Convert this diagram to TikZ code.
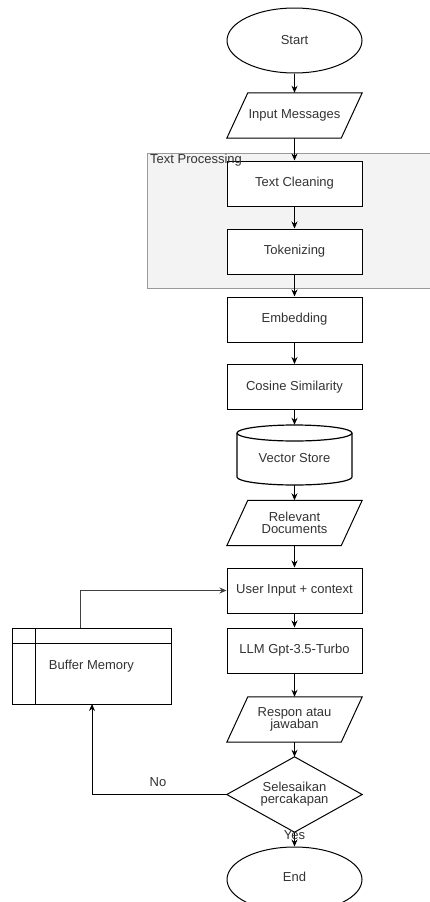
\documentclass[tikz,border=0pt]{standalone}
\usepackage{fontspec}
\setmainfont{Liberation Sans}
\usetikzlibrary{shapes.geometric,arrows.meta,calc}
\definecolor{txt}{HTML}{333333}
\definecolor{grpfill}{HTML}{F3F3F3}
\definecolor{grpline}{HTML}{9A9A9A}
\begin{document}
\begin{tikzpicture}[x=1pt,y=1pt,
  lbl/.style={font=\fontsize{13}{15}\selectfont, text=txt, align=center},
  procbox/.style={lbl, draw=black, line width=1pt, fill=white, rectangle, minimum width=135pt, minimum height=45pt, inner sep=0pt},
  blank/.style={lbl, rectangle, minimum width=135pt, minimum height=45pt, inner sep=0pt},
  term/.style={lbl, draw=black, line width=1pt, fill=white, ellipse, minimum width=135pt, minimum height=65pt, inner sep=0pt},
  para/.style={draw=black, line width=1pt, fill=white},
  conn/.style={draw=black, line width=1pt, -{Stealth[length=7pt,width=6pt]}},
]
\useasboundingbox (0,0) rectangle (430,-902);
\fill[white] (0,0) rectangle (430,-902);

% group
\draw[grpline, fill=grpfill, line width=0.8pt] (432,-153) -- (147,-153) -- (147,-288) -- (432,-288);

% nodes
\node[term] (start) at (294.5,-40.5) {Start};

\node[blank] (inmsg) at (294.5,-115.5) {};
\draw[para] (inmsg.south west) -- ($(inmsg.north west)+(21,0)$) -- (inmsg.north east) -- ($(inmsg.south east)+(-21,0)$) -- cycle;
\node[lbl] at (inmsg.center) {Input Messages};

\node[procbox] (clean) at (294.5,-183.5) {Text Cleaning};
\node[procbox] (tok) at (294.5,-251.5) {Tokenizing};
\node[lbl, anchor=north west, inner sep=0pt] (grplabel) at (150,-154) {Text Processing};

\node[procbox] (emb) at (294.5,-319.5) {Embedding};
\node[procbox] (cos) at (294.5,-387) {Cosine Similarity};

% vector store cylinder
\node[lbl, rectangle, minimum width=115pt, minimum height=60pt, inner sep=0pt] (vs) at (294.5,-455) {};
\draw[black, line width=1.2pt, fill=white] (237,-433) -- (237,-477) arc (180:360:57.5 and 8) -- (352,-433);
\draw[black, line width=1.2pt, fill=white] (294.5,-433) ellipse (57.5 and 8);
\node[lbl] at (294.5,-458) {Vector Store};

\node[blank] (rel) at (294.5,-523) {};
\draw[para] (rel.south west) -- ($(rel.north west)+(21,0)$) -- (rel.north east) -- ($(rel.south east)+(-21,0)$) -- cycle;
\node[lbl, text width=120pt] at (rel.center) {Relevant\\[-3pt]Documents};

\node[procbox] (ui) at (294.5,-590.5) {User Input + context};
\node[procbox] (llm) at (294.5,-650.5) {LLM Gpt-3.5-Turbo};

\node[blank] (resp) at (294.5,-719.5) {};
\draw[para] (resp.south west) -- ($(resp.north west)+(21,0)$) -- (resp.north east) -- ($(resp.south east)+(-21,0)$) -- cycle;
\node[lbl] at (resp.center) {Respon atau\\[-3pt]jawaban};

\node[blank, minimum height=75pt] (dec) at (294.5,-794.5) {};
\draw[para] (dec.north) -- (dec.east) -- (dec.south) -- (dec.west) -- cycle;
\node[lbl] at (dec.center) {Selesaikan\\[-3pt]percakapan};

\node[term] (end) at (294.5,-879.5) {};
\node[lbl] at (294.5,-877) {End};

% buffer memory
\node[lbl, draw=black, line width=1pt, rectangle, minimum width=159pt, minimum height=76pt, inner sep=0pt] (buf) at (91.5,-666) {Buffer Memory};
\draw[black, line width=1pt] (12,-643) -- (171,-643) (35,-628) -- (35,-704);

% connectors
\draw[conn] (start) -- (inmsg);
\draw[conn] (inmsg) -- (clean);
\draw[conn] (clean) -- (tok);
\draw[conn] (tok) -- (emb);
\draw[conn] (emb) -- (cos);
\draw[conn] (cos) -- (vs);
\draw[conn] (vs) -- (rel);
\draw[conn] (rel) -- (ui);
\draw[conn] (ui) -- (llm);
\draw[conn] (llm) -- (resp);
\draw[conn] (resp) -- (dec);
\draw[conn] (dec) -- (end);
\node[lbl] (yes) at (294.5,-835) {Yes};
\coordinate (bufup) at (80,-628);
\draw[conn, draw=black!75] (bufup) -- (80,-590.5) -- (ui.west);
\draw[conn] (dec.west) -- (92,-794.5) -- (92,-704);
\node[lbl] (no) at (158,-782) {No};
\end{tikzpicture}
\end{document}
